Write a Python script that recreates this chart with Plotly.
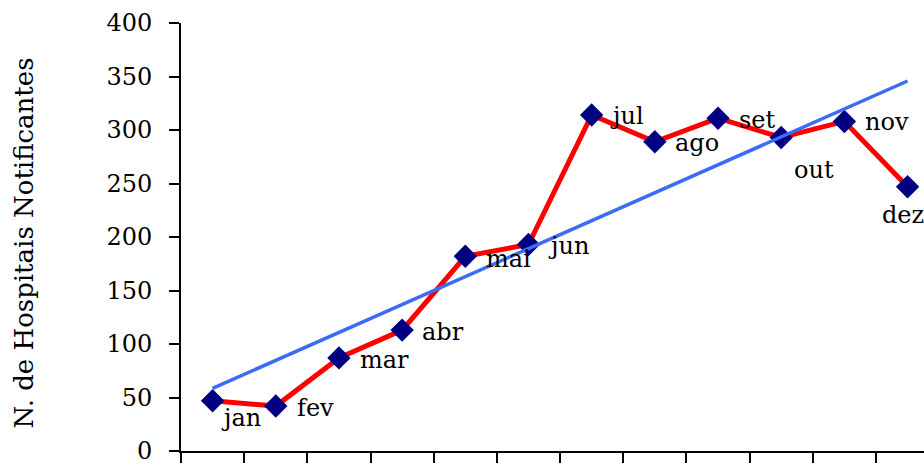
import numpy as np
import plotly.graph_objects as go

# Monthly count of notifying hospitals
months = ["jan", "fev", "mar", "abr", "mai", "jun",
          "jul", "ago", "set", "out", "nov", "dez"]
hospitals = [47, 42, 87, 113, 182, 193, 314, 289, 311, 293, 308, 247]
y_ticks = [0, 50, 100, 150, 200, 250, 300, 350, 400]

# Label placement around each marker (pixels: right, down) and anchoring
label_dx = [6, 19, 19, 18, 19, 18, 16, 18, 19, 11, 19, -5]
label_dy = [17, 2, 2, 2, 3, 2, 1, 1, 2, 33, 1, 28]
label_xanchor = ["left"] * 11 + ["center"]

FONT = "DejaVu Serif"

# Least-squares linear trend over the month index
idx = np.arange(len(months))
slope, intercept = np.polyfit(idx, hospitals, 1)
trend = slope * idx + intercept

fig = go.Figure()

fig.add_trace(go.Scatter(
    x=months, y=hospitals, mode="lines+markers",
    line=dict(color="#ff0000", width=5),
    marker=dict(symbol="diamond", size=18, color="#000080"),
    showlegend=False, hoverinfo="x+y",
))

fig.add_trace(go.Scatter(
    x=months, y=trend, mode="lines",
    line=dict(color="#3b6cf6", width=3.5),
    showlegend=False, hoverinfo="skip",
))

for m, v, dx, dy, xa in zip(months, hospitals, label_dx, label_dy, label_xanchor):
    fig.add_annotation(
        x=m, y=v, text=m, showarrow=False,
        xanchor=xa, yanchor="middle", xshift=dx, yshift=-dy,
        font=dict(family=FONT, size=24, color="#000000"),
    )

fig.add_annotation(
    xref="paper", yref="paper", x=0, y=0.485, xshift=-157,
    text="N. de Hospitais Notificantes", textangle=-90, showarrow=False,
    xanchor="center", yanchor="middle",
    font=dict(family=FONT, size=26, color="#000000"),
)

fig.update_xaxes(
    type="category", categoryorder="array", categoryarray=months,
    range=[-0.5, 11.26], showticklabels=False,
    ticks="outside", tickson="boundaries", ticklen=10, tickwidth=2,
    tickcolor="#000000", showline=True, linecolor="#000000", linewidth=2,
    showgrid=False, zeroline=False,
)
fig.update_yaxes(
    range=[0, 400], tickvals=y_ticks, ticks="outside", ticklen=10,
    tickwidth=2, tickcolor="#000000", showline=True, linecolor="#000000",
    linewidth=2, showgrid=False, zeroline=False, ticklabelstandoff=12,
    ticklabeloverflow="allow",
    tickfont=dict(family=FONT, size=24, color="#000000"),
)

fig.update_layout(
    width=924, height=465,
    margin=dict(l=181, r=0, t=23, b=11),
    paper_bgcolor="#ffffff", plot_bgcolor="#ffffff",
)

fig.write_html("out.html")
